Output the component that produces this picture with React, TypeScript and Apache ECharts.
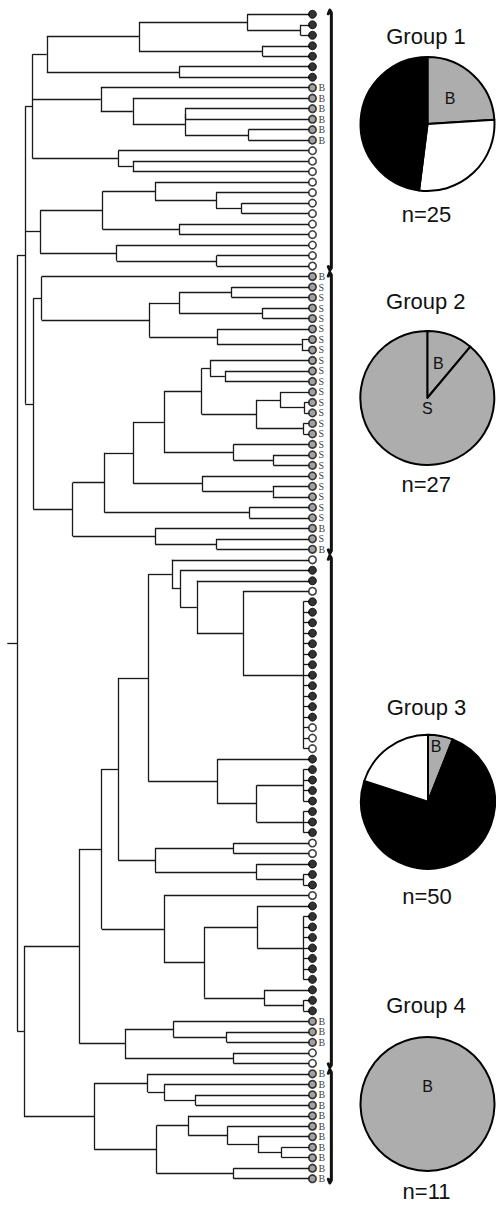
import React, { useEffect, useRef } from "react";
import * as echarts from "echarts";

type TreeNode = number | { h: number; c: TreeNode[] };
const n = (h: number, ...c: TreeNode[]): TreeNode => ({ h, c });

// Leaf states top to bottom: K = filled, W = open, B / S = grey labelled
const group1Leaves = ("KKKKKKK" + "BBBBBB" + "WWWWWWWWWWWW").split("");
const group2Leaves = ("B" + "SSSSSSSSSS" + "SSSSSSSSSS" + "SSS" + "BSB").split("");
const group3Leaves = (
  "WKKW" + "KKKKKKKKKKKK" + "WWW" + "KKKKKKKK" + "WW" + "KKK" + "W" + "KKKKKKKKKKK" + "BBB" + "WW"
).split("");
const group4Leaves = "BBBBBBBBBBB".split("");

// Merge levels (similarity scale 0..100, leaves at 100); leaves are global indices
const group1TreeA = n(9.0,
  n(13.7,
    n(43.9, n(79.4, 0, n(96.9, 1, 2)), n(84.5, 3, 4)),
    n(57.1, 5, 6)),
  n(31.4, 7, n(41.9, 8, n(59.0, n(59.0, 9, 10), n(79.8, 11, 12)))),
  n(37.1, 13, n(41.9, 14, 15)));
const group1TreeB = n(11.5,
  n(32.0, n(49.2, 16, n(69.2, 17, n(77.6, 18, 19))), n(57.1, 20, 21)),
  n(36.6, 22, n(69.4, 23, 24)));
const group2Tree = n(9.3,
  n(12.0, 25, n(47.3, n(57.1, n(74.3, 26, 27), n(84.5, 28, 29)), n(69.6, 30, n(97.3, 31, 32)))),
  n(22.2,
    n(32.6,
      n(42.1,
        n(52.1,
          n(64.5,
            n(67.2, 33, n(72.1, 34, 35)),
            n(82.5, n(90.2, 36, n(98.1, 37, 38)), n(97.8, 39, 40))),
          n(74.9, 41, n(88.0, 42, 43))),
        n(64.8, 44, n(87.8, 45, 46))),
      n(80.1, 47, 48)),
    n(49.2, 49, n(69.4, 50, 51))));
const group3Tree = n(24.4,
  n(31.7,
    n(37.1,
      n(47.0,
        n(54.7, 52, n(57.4, 53, n(62.9, 54, n(78.0, 55,
          n(97.8, 56, 57, 58, 59, 60, 61, 62, 63, 64, 65, 66, 67, 68, 69, 70))))),
        n(69.6, 71, n(82.5, n(97.8, 72, 73, 74, 75), n(97.8, 76, 77, 78)))),
      n(49.2, n(74.9, 79, 80), n(82.5, 81, n(97.8, 82, 83)))),
    n(52.1, 84, n(65.3,
      n(82.7, 85, n(97.8, 86, 87, 88, 89, 90, 91, 92)),
      n(85.0, 93, n(97.8, 94, 95))))),
  n(39.3, n(55.2, 96, n(72.7, 97, 98)), n(74.9, 99, 100)));
const group4Tree = n(29.3,
  n(46.8, 101, n(52.2, 102, n(62.5, 103, 104))),
  n(49.7, n(60.1, 105, n(73.0, 106, n(82.9, 107, n(90.7, 108, 109)))), n(74.9, 110, 111)));
const rootTree = n(4.0, n(6.6, group1TreeA, group1TreeB, group2Tree), n(6.2, group3Tree, group4Tree));
const rootStem = 0.75;

// Pies
const groupTitles = ["Group 1", "Group 2", "Group 3", "Group 4"];
const groupSizes = [25, 27, 50, 11];
const pie1: [string, number][] = [["B", 6], ["W", 7], ["K", 12]];
const pie2: [string, number][] = [["B", 3], ["S", 24]];
const pie3: [string, number][] = [["B", 3], ["K", 37], ["W", 10]];
const pie4: [string, number][] = [["B", 11]];
const pies = [pie1, pie2, pie3, pie4];

// Layout (pixels)
const PIE_R = 67;
const pieCenters = [[427.5, 124], [427.3, 398], [428, 801.7], [427.5, 1104]];
const titleY = [36.7, 301.7, 707, 1005.8];
const countY = [214.2, 484.2, 896.7, 1191.7];
const pieLetters: [string, number, number][][] = [
  [["B", 22.5, -25.5]],
  [["B", 11, -34.7], ["S", 0, 10.3]],
  [["B", 8, -55]],
  [["B", 0, -17.3]],
];

const LEAF_X = 100;
const MARK_X = 100.8;
const GREY = "#adadad";
const sliceColor: Record<string, string> = { B: GREY, S: GREY, K: "#000000", W: "#ffffff" };
const SANS = '"Liberation Sans", Arial, Helvetica, sans-serif';

function buildOption() {
  const segs: number[][][] = [];
  const place = (node: TreeNode): { x: number; y: number } => {
    if (typeof node === "number") return { x: LEAF_X, y: node };
    const kids = node.c.map(place);
    const y0 = kids[0].y;
    const y1 = kids[kids.length - 1].y;
    segs.push([[node.h, y0], [node.h, y1]]);
    kids.forEach((k) => segs.push([[node.h, k.y], [k.x, k.y]]));
    return { x: node.h, y: (y0 + y1) / 2 };
  };
  const root = place(rootTree);
  segs.push([[rootStem, root.y], [(rootTree as any).h, root.y]]);

  const groups = [group1Leaves, group2Leaves, group3Leaves, group4Leaves];
  const allLeaves = groups.flat();
  const brackets: number[][][] = [];
  let start = 0;
  groups.forEach((g) => {
    const a = start;
    const b = start + g.length - 1;
    brackets.push([
      [106.0, a - 0.05], [106.5, a - 0.4], [107.0, a - 0.15],
      [107.0, b + 0.15], [106.5, b + 0.4], [106.0, b + 0.05],
    ]);
    start += g.length;
  });

  const markStyle: Record<string, any> = {
    K: { color: "#000", borderColor: "#000", borderWidth: 1 },
    W: { color: "#fff", borderColor: "#111", borderWidth: 1.6 },
    B: { color: "#8a8a8a", borderColor: "#111", borderWidth: 1.6 },
    S: { color: "#8a8a8a", borderColor: "#111", borderWidth: 1.6 },
  };

  const series: any[] = [
    {
      type: "lines",
      coordinateSystem: "cartesian2d",
      silent: true,
      clip: false,
      lineStyle: { color: "#1a1a1a", width: 1.3, opacity: 1 },
      data: segs.map((c) => ({ coords: c })),
    },
    {
      type: "lines",
      coordinateSystem: "cartesian2d",
      polyline: true,
      silent: true,
      clip: false,
      lineStyle: { color: "#111", width: 3, opacity: 1, cap: "round", join: "round" },
      data: brackets.map((c) => ({ coords: c })),
    },
    {
      type: "scatter",
      silent: true,
      clip: false,
      symbol: "circle",
      data: allLeaves.map((t, i) => ({
        name: t === "B" || t === "S" ? t : "",
        value: [MARK_X, i],
        symbolSize: t === "K" ? 8 : 7.5,
        itemStyle: markStyle[t],
        label: { show: t === "B" || t === "S" },
      })),
      label: {
        position: "right",
        distance: 1.5,
        formatter: "{b}",
        fontFamily: '"Liberation Serif", "Times New Roman", serif',
        fontSize: 10,
        lineHeight: 9,
        color: "#000",
      },
      z: 5,
    },
  ];

  pies.forEach((p, i) => {
    series.push({
      type: "pie",
      center: pieCenters[i],
      radius: PIE_R,
      startAngle: 90,
      clockwise: true,
      silent: true,
      label: { show: false },
      labelLine: { show: false },
      emphasis: { disabled: true },
      itemStyle: { borderColor: "#000", borderWidth: 2 },
      data: p.map(([k, v]) => ({ name: k, value: v, itemStyle: { color: sliceColor[k] } })),
    });
  });

  const graphic: any[] = [];
  groupTitles.forEach((t, i) => {
    const [cx, cy] = pieCenters[i];
    graphic.push({
      type: "text", x: cx - 1.5, y: titleY[i], z: 10,
      style: { text: t, fill: "#111", font: `22px ${SANS}`, textAlign: "center", textVerticalAlign: "middle" },
    });
    graphic.push({
      type: "text", x: cx - 1, y: countY[i], z: 10,
      style: { text: `n=${groupSizes[i]}`, fill: "#111", font: `22px ${SANS}`, textAlign: "center", textVerticalAlign: "middle" },
    });
    pieLetters[i].forEach(([l, dx, dy]) => {
      graphic.push({
        type: "text", x: cx + dx, y: cy + dy, z: 10,
        style: { text: l, fill: "#111", font: `16px ${SANS}`, textAlign: "center", textVerticalAlign: "middle" },
      });
    });
  });

  return {
    animation: false,
    backgroundColor: "#ffffff",
    grid: { left: 5, top: 3.8, width: 341.6, height: 1185.4, containLabel: false, outerBoundsMode: "none" },
    xAxis: { type: "value", min: 0, max: 112, show: false },
    yAxis: { type: "value", min: -1, max: 112, inverse: true, show: false },
    series,
    graphic,
  };
}

export default function App() {
  const ref = useRef<HTMLDivElement>(null);
  useEffect(() => {
    if (!ref.current) return;
    const chart = echarts.init(ref.current, undefined, { renderer: "svg" });
    chart.setOption(buildOption() as any);
    return () => chart.dispose();
  }, []);
  return (
    <div
      ref={ref}
      style={{ position: "absolute", left: 0, top: 0, width: 496, height: 1211, background: "#fff" }}
    />
  );
}
